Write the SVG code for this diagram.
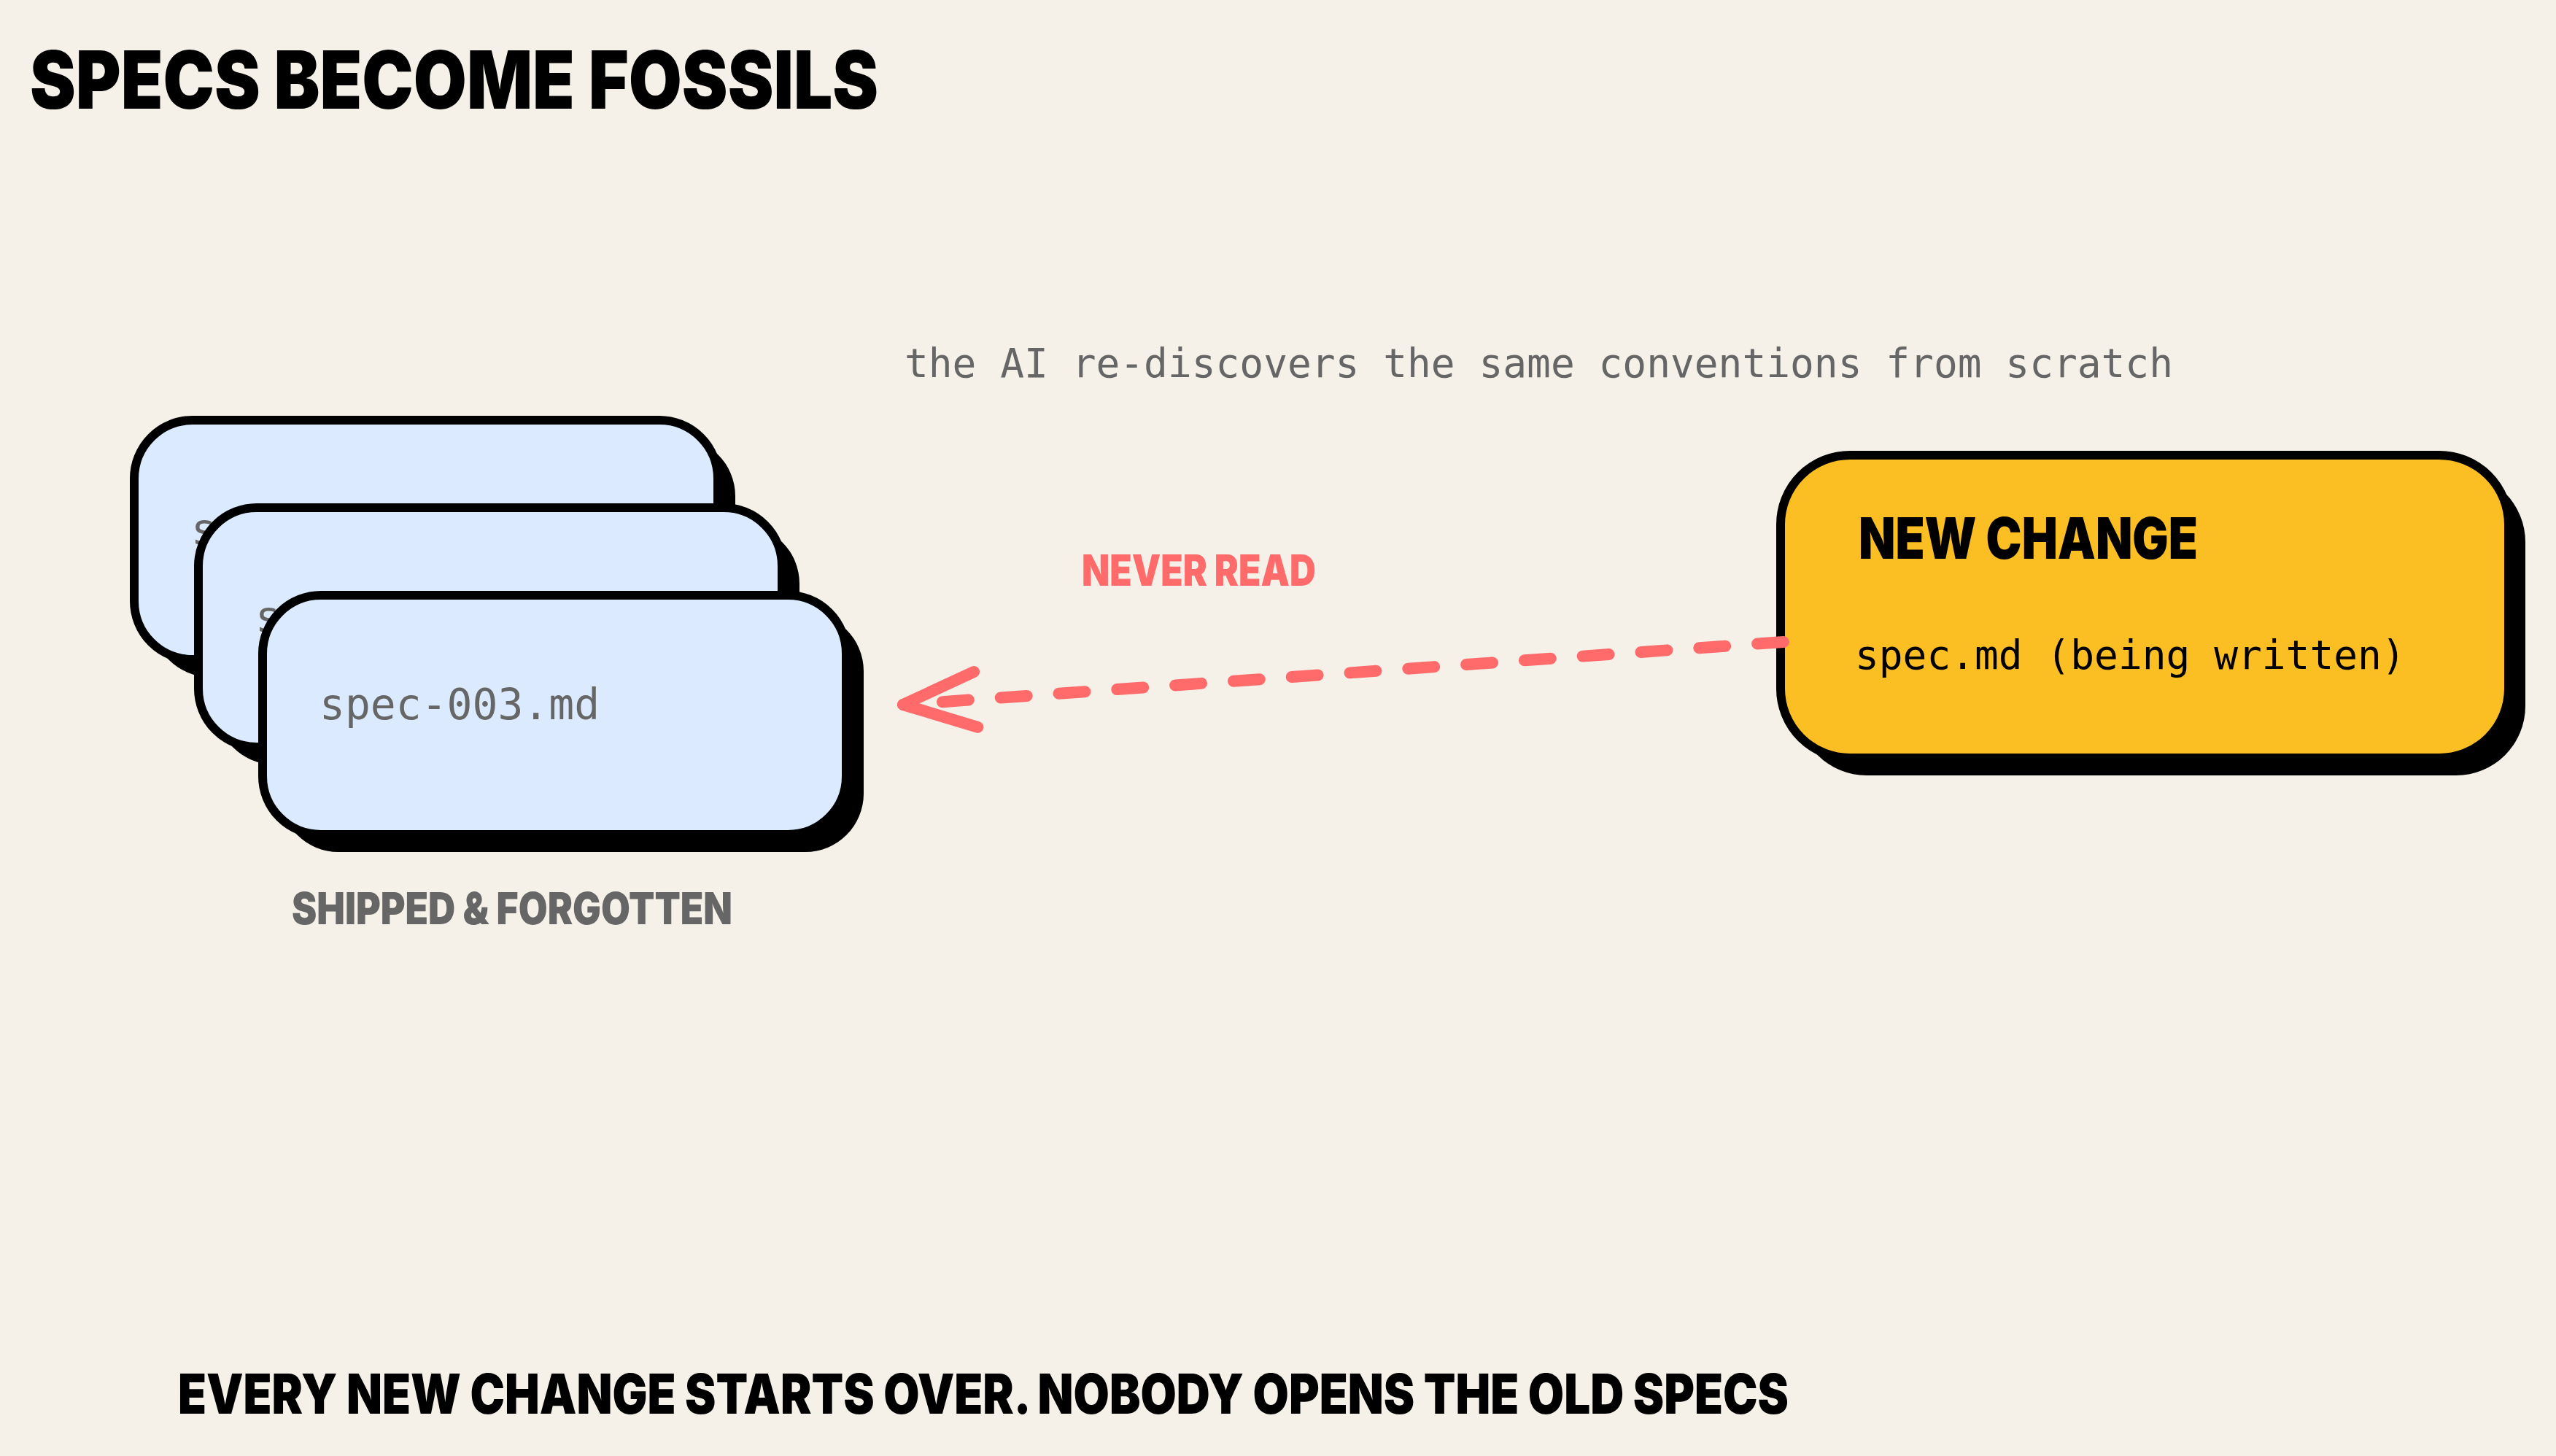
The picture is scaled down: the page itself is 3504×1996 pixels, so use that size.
<svg xmlns="http://www.w3.org/2000/svg" width="3504" height="1996" viewBox="0 0 3504 1996">
  <style>
    .bg { fill: #f5f1e9; }
    .shadow { fill: #000; stroke: none; }
    .card { fill: #dbeafe; stroke: #000; stroke-width: 12; }
    .yellow { fill: #fbbf24; stroke: #000; stroke-width: 12; }
    .mono { font-family: "DejaVu Sans Mono", "Liberation Mono", monospace; }
    .disp { font-family: Inter, Roboto, "Liberation Sans", sans-serif; font-weight: 900; }
    .grey { fill: #666666; }
    .black { fill: #000; }
    .coral { fill: #ff6b6b; }
    .dash { fill: none; stroke: #ff6b6b; stroke-width: 16; stroke-linecap: round; stroke-dasharray: 36 44; }
    .head { fill: none; stroke: #ff6b6b; stroke-width: 16; stroke-linecap: round; stroke-linejoin: round; }
  </style>
  <defs>
    <marker id="chev" markerUnits="userSpaceOnUse" markerWidth="240" markerHeight="240" viewBox="-120 -120 240 240" refX="0" refY="0" orient="auto" overflow="visible">
      <path class="head" d="M -100 -38 L 0 0 L -100 38"/>
    </marker>
  </defs>
  <rect class="bg" x="0" y="0" width="3504" height="1996"/>

  <text id="title" class="disp black" x="41" y="149" font-size="110" textLength="1163" lengthAdjust="spacingAndGlyphs">SPECS BECOME FOSSILS</text>

  <text id="subtitle" class="mono grey" x="1240" y="517" font-size="54.5" textLength="1739" lengthAdjust="spacingAndGlyphs">the AI re-discovers the same conventions from scratch</text>

  <g id="spec-001">
    <rect class="shadow" x="208" y="600" width="800" height="328" rx="80"/>
    <rect class="card" x="184" y="576" width="800" height="328" rx="80"/>
    <text class="mono grey" x="262" y="746" font-size="58">spec-001.md</text>
  </g>
  <g id="spec-002">
    <rect class="shadow" x="296" y="720" width="800" height="328" rx="80"/>
    <rect class="card" x="272" y="696" width="800" height="328" rx="80"/>
    <text class="mono grey" x="350" y="866" font-size="58">spec-002.md</text>
  </g>
  <g id="spec-003">
    <rect class="shadow" x="384" y="840" width="800" height="328" rx="80"/>
    <rect class="card" x="360" y="816" width="800" height="328" rx="80"/>
    <text class="mono grey" x="438" y="986" font-size="58">spec-003.md</text>
  </g>

  <text id="shipped-label" class="disp grey" x="400" y="1267" font-size="60" textLength="604" lengthAdjust="spacingAndGlyphs">SHIPPED &amp; FORGOTTEN</text>

  <g id="new-change">
    <rect class="shadow" x="2464" y="648" width="998" height="415" rx="95"/>
    <rect class="yellow" x="2441" y="624" width="998" height="415" rx="95"/>
    <text class="disp black" x="2548" y="766" font-size="78" textLength="465" lengthAdjust="spacingAndGlyphs">NEW CHANGE</text>
    <text class="mono black" x="2543" y="917" font-size="54.5">spec.md (being written)</text>
  </g>

  <g id="connectors">
    <path class="dash" d="M 2445 880 L 1238 966" marker-end="url(#chev)"/>
    <text class="disp coral" x="1483" y="803" font-size="59" textLength="321" lengthAdjust="spacingAndGlyphs">NEVER READ</text>
  </g>

  <text id="footer" class="disp black" x="244" y="1938" font-size="76" textLength="2208" lengthAdjust="spacingAndGlyphs">EVERY NEW CHANGE STARTS OVER. NOBODY OPENS THE OLD SPECS</text>
</svg>
